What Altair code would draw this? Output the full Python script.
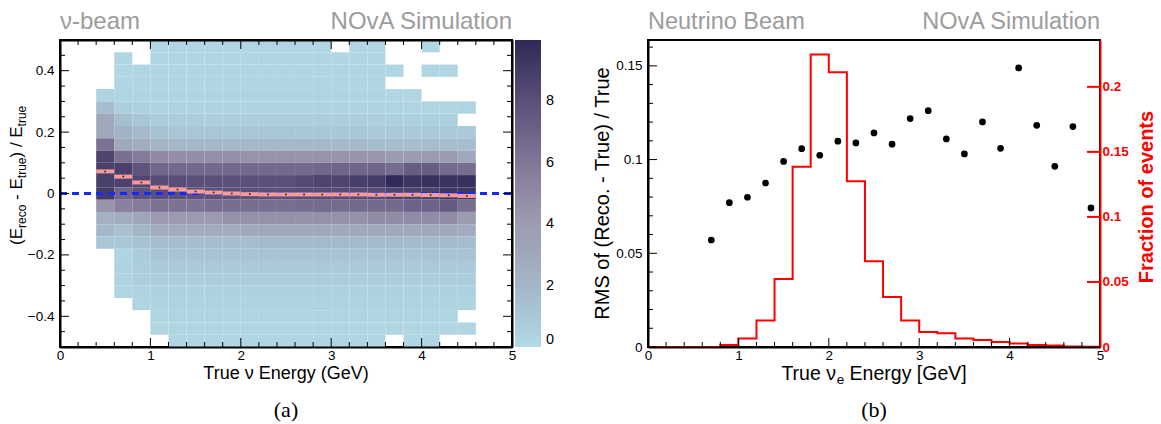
import altair as alt
import pandas as pd

FONT = "Liberation Sans"
SERIF = "Liberation Serif"
GRAY = "#9c9c9c"
PINK = "#f59b9b"
BLUE = "#1428ff"

# ---------------- panel (a): 2D histogram of energy resolution ----------------
e_lo = [0.4, 0.6, 0.8, 1.0, 1.2, 1.4, 1.6, 1.8, 2.0, 2.2, 2.4, 2.6, 2.8, 3.0, 3.2, 3.4, 3.6, 3.8, 4.0, 4.2, 4.4]
e_hi = [0.6, 0.8, 1.0, 1.2, 1.4, 1.6, 1.8, 2.0, 2.2, 2.4, 2.6, 2.8, 3.0, 3.2, 3.4, 3.6, 3.8, 4.0, 4.2, 4.4, 4.6]
res_lo = [0.46, 0.42, 0.38, 0.34, 0.30, 0.26, 0.22, 0.18, 0.14, 0.10, 0.06, 0.02, -0.02,
          -0.06, -0.10, -0.14, -0.18, -0.22, -0.26, -0.30, -0.34, -0.38, -0.42, -0.46, -0.50]
res_hi = [0.50, 0.46, 0.42, 0.38, 0.34, 0.30, 0.26, 0.22, 0.18, 0.14, 0.10, 0.06, 0.02,
          -0.02, -0.06, -0.10, -0.14, -0.18, -0.22, -0.26, -0.30, -0.34, -0.38, -0.42, -0.46]
N = None
counts = [
    [N, N, N, .2, .2, .2, .2, .2, .2, .2, .2, .2, .2, N, .2, .2, N, N, .2, N, N],
    [N, .2, N, .2, .2, .2, .2, .2, .2, .2, .2, .2, .2, .2, .2, .2, N, N, N, N, N],
    [N, .2, .2, .2, .2, .2, .2, .2, .2, .2, .2, .2, .2, .2, .2, .2, .2, N, .2, .2, N],
    [N, .2, .2, .2, .25, .25, .25, .25, .25, .25, .25, .25, .25, .2, .2, .2, N, N, N, N, N],
    [.4, .3, .3, .3, .3, .3, .3, .3, .3, .3, .3, .3, .3, .3, .3, .3, .25, .25, N, N, N],
    [1.6, .6, .5, .4, .4, .4, .4, .4, .4, .4, .4, .4, .4, .4, .4, .4, .35, .35, .35, .35, .35],
    [2.9, 1.5, 1.1, .8, .7, .7, .6, .6, .6, .6, .6, .6, .6, .6, .6, .6, .5, .5, .5, .5, N],
    [3.0, 2.2, 1.7, 1.3, 1.1, 1.1, 1.1, 1.1, 1.1, 1.1, 1.1, 1.0, 1.0, 1.0, 1.0, .9, .9, .9, .9, .9, .9],
    [6.2, 3.0, 2.7, 2.1, 1.9, 1.9, 1.9, 1.9, 1.9, 1.9, 1.9, 1.9, 1.8, 1.7, 1.7, 1.6, 1.6, 1.6, 1.6, 1.6, 1.6],
    [8.6, 6.3, 5.8, 5.0, 4.8, 4.8, 4.7, 4.7, 4.5, 4.5, 4.5, 4.5, 4.5, 4.4, 4.4, 4.3, 4.0, 4.0, 4.1, 4.0, 3.0],
    [8.8, 8.8, 7.8, 6.8, 6.7, 6.7, 6.7, 6.7, 6.7, 6.7, 6.7, 6.7, 6.8, 6.9, 6.9, 6.9, 6.6, 7.3, 7.3, 6.6, 6.5],
    [8.8, 8.7, 8.5, 8.2, 8.1, 8.0, 8.0, 8.0, 8.0, 8.0, 8.0, 8.3, 8.6, 8.6, 8.9, 9.0, 9.9, 9.4, 9.6, 9.5, 9.6],
    [9.0, 6.9, 7.9, 8.0, 8.0, 8.0, 8.0, 8.0, 8.0, 8.0, 8.0, 8.2, 8.2, 8.2, 8.2, 8.2, 8.7, 8.7, 8.7, 9.3, 9.3],
    [4.4, 5.5, 5.7, 6.2, 6.2, 6.2, 6.4, 6.4, 6.4, 6.4, 6.4, 6.6, 6.6, 6.6, 6.7, 6.7, 6.7, 7.0, 7.0, 7.4, 6.4],
    [2.3, 2.6, 3.2, 4.1, 4.1, 4.1, 4.1, 4.6, 4.6, 4.6, 4.6, 4.6, 4.6, 4.6, 4.6, 4.9, 4.9, 4.9, 4.9, 4.9, 4.0],
    [1.9, 1.4, 2.0, 2.7, 2.7, 2.7, 2.7, 2.7, 2.9, 2.9, 2.9, 2.9, 2.9, 2.9, 2.9, 2.9, 2.9, 2.9, 2.9, 2.9, 2.7],
    [1.1, 1.0, 1.3, 1.6, 1.6, 1.6, 1.6, 1.6, 1.6, 1.8, 1.8, 1.8, 1.8, 1.8, 1.8, 1.8, 1.8, 1.8, 1.8, 1.8, 1.6],
    [N, .3, .8, 1.2, 1.2, 1.2, 1.2, 1.2, 1.2, 1.2, 1.2, 1.2, 1.2, 1.2, 1.2, 1.2, 1.2, 1.2, 1.2, 1.2, 1.2],
    [N, .4, .7, .9, .9, .9, .9, .9, .9, .9, .9, .9, .9, .9, .9, .9, .9, .9, .9, .9, .9],
    [N, .4, .6, .7, .7, .7, .7, .7, .7, .7, .7, .7, .7, .7, .7, .7, .7, .7, .7, .7, .7],
    [N, .3, .4, .5, .5, .5, .5, .5, .5, .5, .5, .5, .5, .5, .5, .5, .5, .5, .5, .5, .5],
    [N, N, .3, .4, .4, .4, .4, .4, .4, .4, .4, .4, .4, .4, .4, .4, .4, .4, .4, .4, .4],
    [N, N, N, .3, .3, .3, .3, .3, .3, .3, .3, .3, .3, .3, .3, .3, .3, .3, .3, .3, N],
    [N, N, N, .25, .25, .25, .25, .25, .25, .25, .25, .25, .25, .25, .25, .25, .25, .25, .25, .25, .25],
    [N, N, N, N, .2, .2, .2, .2, .2, .2, .2, .2, .2, .2, .2, .2, N, .2, .2, N, N],
]
profile = [0.072, 0.055, 0.036, 0.0195, 0.013, 0.0065, 0.003, 0.0, -0.002, -0.003, -0.003,
           -0.003, -0.003, -0.003, -0.003, -0.004, -0.004, -0.004, -0.005, -0.006, -0.008]
count_stops = [0, 1, 2, 3, 4, 5, 6, 7, 8, 9, 10]
count_colors = ["#b3dae6", "#a9c8d7", "#a3b6c7", "#a0a8bb", "#9c9cb1", "#9189a4",
                "#807796", "#6d6388", "#5a5079", "#463c69", "#2f2858"]
legend_values = [0, 2, 4, 6, 8]
x_major = [0, 1, 2, 3, 4, 5]
x_minor = [0.2, 0.4, 0.6, 0.8, 1.2, 1.4, 1.6, 1.8, 2.2, 2.4, 2.6, 2.8, 3.2, 3.4, 3.6, 3.8,
           4.2, 4.4, 4.6, 4.8]
res_major = [-0.4, -0.2, 0.0, 0.2, 0.4]
res_minor = [-0.5, -0.45, -0.35, -0.3, -0.25, -0.15, -0.1, -0.05, 0.05, 0.1, 0.15, 0.25,
             0.3, 0.35, 0.45, 0.5]

# ---------------- panel (b): RMS and fraction of events ----------------
rms_energy = [0.7, 0.9, 1.1, 1.3, 1.5, 1.7, 1.9, 2.1, 2.3, 2.5, 2.7, 2.9, 3.1, 3.3, 3.5,
              3.7, 3.9, 4.1, 4.3, 4.5, 4.7, 4.9]
rms_values = [0.0571, 0.0770, 0.0799, 0.0875, 0.0990, 0.1058, 0.1023, 0.1098, 0.1089, 0.1142,
              0.1082, 0.1219, 0.1261, 0.1110, 0.1030, 0.1201, 0.1060, 0.1489, 0.1183, 0.0964,
              0.1176, 0.0742]
frac_edges = [0.0, 0.2, 0.4, 0.6, 0.8, 1.0, 1.2, 1.4, 1.6, 1.8, 2.0, 2.2, 2.4, 2.6, 2.8,
              3.0, 3.2, 3.4, 3.6, 3.8, 4.0, 4.2, 4.4, 4.6, 4.8, 5.0]
frac_values = [0.0, 0.0, 0.0, 0.0, 0.0015, 0.0065, 0.0203, 0.0523, 0.1385, 0.2249, 0.2113,
               0.1275, 0.0659, 0.0385, 0.0203, 0.0115, 0.0105, 0.0065, 0.0054, 0.0038,
               0.0026, 0.0015, 0.0011, 0.0003, 0.0002]
rms_major = [0.0, 0.05, 0.1, 0.15]
rms_minor = [0.01, 0.02, 0.03, 0.04, 0.06, 0.07, 0.08, 0.09, 0.11, 0.12, 0.13, 0.14, 0.16]
frac_major = [0.0, 0.05, 0.1, 0.15, 0.2]

# ---------------- data frames ----------------
heat_rows = []
for i, row in enumerate(counts):
    for j, v in enumerate(row):
        if v is not None:
            heat_rows.append({"x0": e_lo[j], "x1": e_hi[j], "y0": res_lo[i], "y1": res_hi[i], "v": v})
heat_df = pd.DataFrame(heat_rows)
prof_df = pd.DataFrame({"x0": e_lo, "x1": e_hi,
                        "xc": [(a + b) / 2 for a, b in zip(e_lo, e_hi)], "p": profile})
step_df = pd.DataFrame({"e": frac_edges, "f": frac_values + [frac_values[-1]]})
rms_df = pd.DataFrame({"e": rms_energy, "r": rms_values})
ONE = pd.DataFrame({"k": [0]})


def tdf(vals):
    return pd.DataFrame({"t": vals})


W, H = 452, 307
FMT = "format(datum.value, '~g')"

xs = alt.Scale(domain=[0, 5], nice=False, zero=False)
ys_a = alt.Scale(domain=[-0.5, 0.5], nice=False, zero=False)
ys_rms = alt.Scale(domain=[0, 0.1638], nice=False, zero=False)
ys_frac = alt.Scale(domain=[0, 0.236], nice=False, zero=False)


def lab_axis(orient, values, pad, color="black", bold=False, labels=True, dwidth=2):
    kw = dict(orient=orient, values=values, title=None, grid=False, ticks=False,
              domain=True, domainColor=color, domainWidth=dwidth, zindex=1, labels=labels)
    if labels:
        kw.update(labelExpr=FMT, labelPadding=pad, labelFontSize=13.5, labelFont=FONT,
                  labelColor=color, labelFlush=False, labelOverlap=False,
                  labelFontWeight="bold" if bold else "normal")
    return alt.Axis(**kw)


def xticks(vals, y0, y1, color="black", width=1):
    return alt.Chart(tdf(vals)).mark_rule(color=color, strokeWidth=width).encode(
        x=alt.X("t:Q", scale=xs, axis=None), y=alt.value(y0), y2=alt.value(y1))


def yticks(vals, scale, x0, x1, color="black", width=1):
    return alt.Chart(tdf(vals)).mark_rule(color=color, strokeWidth=width).encode(
        y=alt.Y("t:Q", scale=scale, axis=None), x=alt.value(x0), x2=alt.value(x1))


def txt(text, x, y, size, color="black", align="left", angle=0, weight="normal", font=FONT):
    return alt.Chart(ONE).mark_text(
        text=text, align=align, baseline="alphabetic", angle=angle, fontSize=size,
        font=font, color=color, fontWeight=weight
    ).encode(x=alt.value(x), y=alt.value(y))


heat = alt.Chart(heat_df).mark_rect().encode(
    x=alt.X("x0:Q", scale=xs, axis=lab_axis("bottom", x_major, 1)),
    x2="x1:Q",
    y=alt.Y("y0:Q", scale=ys_a, axis=lab_axis("left", res_major, 6)),
    y2="y1:Q",
    color=alt.Color("v:Q",
                    scale=alt.Scale(domain=count_stops, range=count_colors, interpolate="rgb"),
                    legend=alt.Legend(orient="none", legendX=455, legendY=0,
                                      direction="vertical", gradientLength=H,
                                      gradientThickness=26, title=None, values=legend_values,
                                      labelFontSize=14.5, labelFont=FONT, labelOffset=5,
                                      labelOverlap=False, labelColor="black",
                                      gradientStrokeWidth=0)),
)
zero_line = alt.Chart(ONE).mark_rule(color=BLUE, strokeWidth=3, strokeDash=[7, 5]).encode(
    x=alt.XDatum(0, scale=xs, axis=None), x2=alt.datum(5),
    y=alt.YDatum(0, scale=ys_a, axis=None),
)
prof = alt.Chart(prof_df).mark_rule(color=PINK, strokeWidth=4).encode(
    x=alt.X("x0:Q", scale=xs, axis=lab_axis("top", x_major, 0, labels=False)),
    x2="x1:Q",
    y=alt.Y("p:Q", scale=ys_a, axis=lab_axis("right", res_major, 0, labels=False)),
)
prof_dots = alt.Chart(prof_df).mark_circle(size=4, color="#333333", opacity=1).encode(
    x=alt.X("xc:Q", scale=xs, axis=None), y=alt.Y("p:Q", scale=ys_a, axis=None),
)
anchor = alt.Chart(ONE).mark_rule(opacity=0, strokeWidth=0).encode(
    x=alt.value(-58.5), y=alt.value(-38.5), x2=alt.value(-58.5), y2=alt.value(-38.5))

texts_a = [
    txt("ν-beam", 0, -11, 24, GRAY),
    txt("NOvA Simulation", W, -11, 24, GRAY, align="right"),
    txt("True ν Energy (GeV)", W / 2, 339, 18, align="center"),
    txt("(a)", W / 2, 377, 22, align="center", font=SERIF),
    txt("(E", -38, 205, 17, angle=270),
    txt("reco", -34.5, 188.0, 12, angle=270),
    txt("- E", -38, 160.0, 17, angle=270),
    txt("true", -34.5, 138.2, 12, angle=270),
    txt(") / E", -38, 117.5, 17, angle=270),
    txt("true", -34.5, 86.4, 12, angle=270),
]

tick_a = [
    xticks(x_major, H, H - 9), xticks(x_minor, H, H - 5),
    xticks(x_major, 0, 9), xticks(x_minor, 0, 5),
    yticks(res_major, ys_a, 0, 9), yticks(res_minor, ys_a, 0, 5),
    yticks(res_major, ys_a, W, W - 9), yticks(res_minor, ys_a, W, W - 5),
]

left = alt.layer(heat, zero_line, prof, prof_dots, *tick_a, *texts_a,
                 anchor).resolve_axis(x="independent", y="independent").properties(width=W, height=H)

hist = alt.Chart(step_df).mark_line(interpolate="step-after", color="red", strokeWidth=2).encode(
    x=alt.X("e:Q", scale=xs, axis=lab_axis("bottom", x_major, 1)),
    y=alt.Y("f:Q", scale=ys_frac,
            axis=lab_axis("right", frac_major, 2, color="red", bold=True, dwidth=2)),
)
pts = alt.Chart(rms_df).mark_circle(size=45, color="black", opacity=1).encode(
    x=alt.X("e:Q", scale=xs, axis=None),
    y=alt.Y("r:Q", scale=ys_rms, axis=lab_axis("left", rms_major, 6)),
)
tick_b = [
    xticks(x_major, H, H - 9), xticks(x_minor, H, H - 5),
    yticks(rms_major, ys_rms, 0, 9), yticks(rms_minor, ys_rms, 0, 5),
    yticks(frac_major, ys_frac, W, W - 13, color="red", width=2),
]
texts_b = [
    txt("Neutrino Beam", 0, -11, 23.5, GRAY),
    txt("NOvA Simulation", W, -11, 23.5, GRAY, align="right"),
    txt("True ν", 133.4, 340, 19.5),
    txt("e", 188.7, 344, 13.5),
    txt("Energy [GeV]", 201.6, 340, 19.5),
    txt("(b)", W / 2, 377, 22, align="center", font=SERIF),
    txt("RMS of (Reco. - True) / True", -39, 153.5, 20, angle=270, align="center"),
    txt("Fraction of events", 505, 157, 20, color="red", angle=270, align="center",
        weight="bold"),
]
right = alt.layer(hist, pts, *tick_b, *texts_b).resolve_scale(y="independent").resolve_axis(
    x="independent", y="independent").properties(width=W, height=H)

chart = alt.hconcat(left, right, spacing=136, bounds="flush").configure_view(
    stroke="black", strokeWidth=2).properties(padding=0, background="white")

chart.save("out.html", embed_options={"renderer": "svg", "actions": False})
